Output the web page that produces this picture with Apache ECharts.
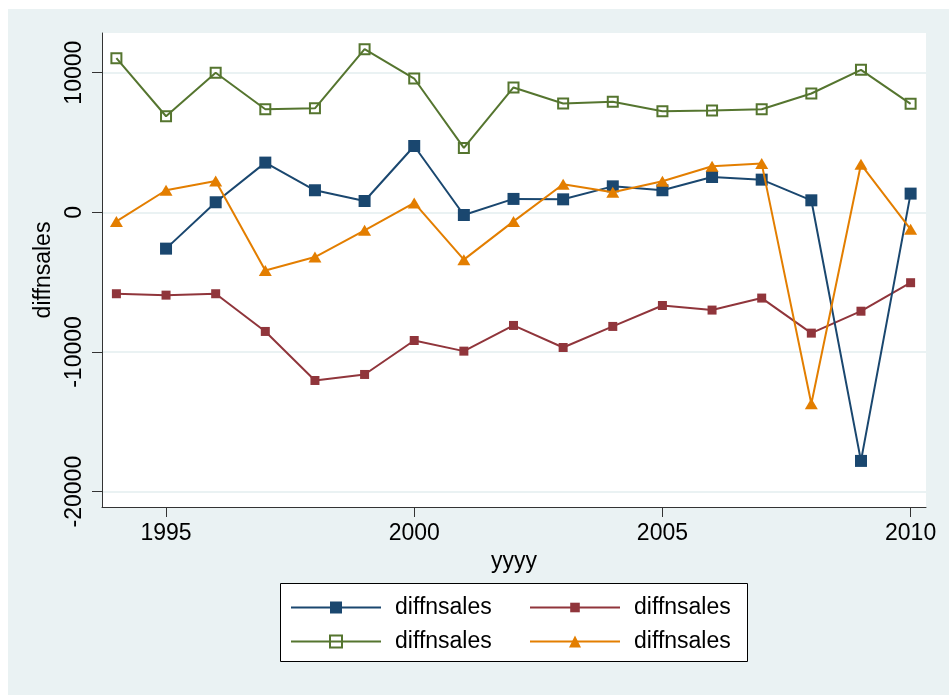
<!DOCTYPE html>
<html>
<head>
<meta charset="utf-8">
<script src="https://cdn.jsdelivr.net/npm/echarts@6/dist/echarts.min.js"></script>
<style>
  html, body { margin: 0; padding: 0; background: #fff; }
  #chart { width: 949px; height: 695px; }
</style>
</head>
<body>
<div id="chart"></div>
<script>
// years on the x axis
const years = [1994, 1995, 1996, 1997, 1998, 1999, 2000, 2001, 2002, 2003, 2004, 2005, 2006, 2007, 2008, 2009, 2010];
// four diffnsales series
const blueVals = [null, -2600, 720, 3560, 1580, 810, 4750, -190, 960, 930, 1860, 1580, 2530, 2340, 860, -17800, 1340];
const redVals = [-5830, -5930, -5830, -8530, -12040, -11610, -9180, -9940, -8100, -9680, -8170, -6670, -7000, -6140, -8650, -7080, -5040];
const greenVals = [11040, 6880, 9990, 7380, 7450, 11680, 9580, 4610, 8940, 7790, 7910, 7240, 7290, 7380, 8510, 10200, 7770];
const orangeVals = [-650, 1580, 2250, -4160, -3200, -1290, 670, -3390, -650, 2010, 1430, 2220, 3300, 3490, -13710, 3440, -1220];
const yTicks = [-20000, -10000, 0, 10000];
const xTicks = [1995, 2000, 2005, 2010];

const FONT = "'Liberation Sans', Arial, sans-serif";
const pairs = (vals) => years.map((y, i) => [y, vals[i]]);

var myChart = echarts.init(document.getElementById("chart"));

const legendCommon = {
  itemWidth: 90,
  padding: 0,
  formatter: () => "diffnsales",
  textStyle: { fontFamily: FONT, fontSize: 23, color: "#000", padding: [0, 0, 0, 9] },
};

myChart.setOption({
  animation: false,
  graphic: [
    {
      type: "rect",
      z: -10,
      silent: true,
      shape: { x: 8, y: 9, width: 941, height: 686 },
      style: { fill: "#eaf2f3" },
    },
    {
      type: "rect",
      z: -5,
      silent: true,
      shape: { x: 280.5, y: 583.5, width: 467, height: 78 },
      style: { fill: "#fff", stroke: "#000", lineWidth: 1 },
    },
  ],
  grid: {
    left: 102,
    right: 23,
    top: 33,
    bottom: 188,
    show: true,
    backgroundColor: "#fff",
    borderWidth: 0,
  },
  legend: [
    Object.assign({}, legendCommon, { data: ["s1"], left: 290, top: 596, itemHeight: 15 }),
    Object.assign({}, legendCommon, { data: ["s2"], left: 529, top: 596, itemHeight: 12 }),
    Object.assign({}, legendCommon, { data: ["s3"], left: 290, top: 630, itemHeight: 15 }),
    Object.assign({}, legendCommon, { data: ["s4"], left: 529, top: 630, itemHeight: 15 }),
  ],
  xAxis: {
    type: "value",
    min: 1993.71,
    max: 2010.31,
    name: "yyyy",
    nameLocation: "middle",
    nameGap: 38,
    nameTextStyle: { fontFamily: FONT, fontSize: 23, color: "#000" },
    axisLine: { show: true, onZero: false, lineStyle: { color: "#333", width: 1 } },
    axisTick: { show: true, length: 10, customValues: xTicks, lineStyle: { color: "#333" } },
    axisLabel: {
      customValues: xTicks, margin: 15, fontFamily: FONT, fontSize: 23, color: "#000",
      formatter: (v) => String(v),
    },
    splitLine: { show: false },
  },
  yAxis: {
    type: "value",
    min: -21100,
    max: 12840,
    name: "diffnsales",
    nameLocation: "middle",
    nameGap: 43,
    nameRotate: 90,
    nameTextStyle: { fontFamily: FONT, fontSize: 23, color: "#000" },
    axisLine: { show: true, onZero: false, lineStyle: { color: "#333", width: 1 } },
    axisTick: { show: true, length: 10, customValues: yTicks, lineStyle: { color: "#333" } },
    axisLabel: {
      customValues: yTicks, rotate: 90, margin: 16, fontFamily: FONT, fontSize: 23, color: "#000",
      formatter: (v) => String(v),
    },
    splitLine: { show: true, lineStyle: { color: "#eaf2f3", width: 2 } },
  },
  series: [
    {
      name: "s1",
      type: "line",
      data: pairs(blueVals),
      symbol: "rect",
      symbolSize: 12,
      showAllSymbol: true,
      lineStyle: { color: "#1a476f", width: 2 },
      itemStyle: { color: "#1a476f" },
      z: 4,
    },
    {
      name: "s2",
      type: "line",
      data: pairs(redVals),
      symbol: "rect",
      symbolSize: 9,
      lineStyle: { color: "#90353b", width: 2 },
      itemStyle: { color: "#90353b" },
      z: 3,
    },
    {
      name: "s3",
      type: "line",
      data: pairs(greenVals),
      symbol: "rect",
      symbolSize: 10,
      lineStyle: { color: "#55752f", width: 2 },
      itemStyle: { color: "rgba(255,255,255,0)", borderColor: "#55752f", borderWidth: 2 },
      z: 2,
    },
    {
      name: "s4",
      type: "line",
      data: pairs(orangeVals),
      symbol: "triangle",
      symbolSize: [13, 11],
      lineStyle: { color: "#e37e00", width: 2 },
      itemStyle: { color: "#e37e00" },
      z: 5,
    },
  ],
});
</script>
</body>
</html>
